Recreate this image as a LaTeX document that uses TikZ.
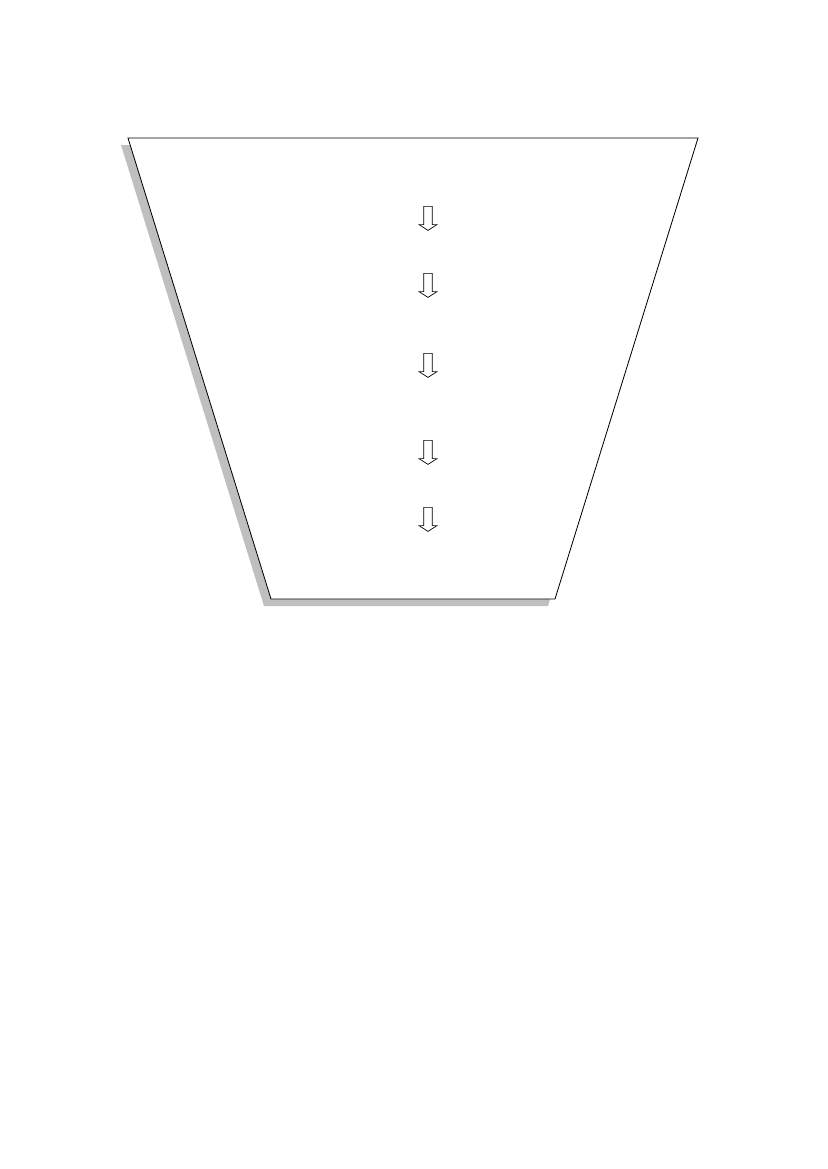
\documentclass[tikz,border=0pt]{standalone}
\usetikzlibrary{shapes.arrows}

\tikzset{
	down-arrow/.style={draw, single arrow, rotate=270, fill=white, line width=0.5pt, inner xsep=0pt, inner ysep=0.1cm, text height=0pt, text depth=0pt, minimum height=0.61cm, minimum width=0.45cm, single arrow head extend=0.12cm, single arrow tip angle=115},
}

\begin{document}
\begin{tikzpicture}[x=0.0254cm, y=-0.0254cm]
				\useasboundingbox (0, 0) rectangle (827, 1169);

				\coordinate (top-left) at (128, 138);
				\coordinate (top-right) at (698, 138);
				\coordinate (bottom-right) at (555, 599);
				\coordinate (bottom-left) at (271, 599);

				\fill[black!25] ([shift={(-7, 7)}]top-left) -- ([shift={(-7, 7)}]top-right) -- ([shift={(-7, 7)}]bottom-right) -- ([shift={(-7, 7)}]bottom-left) -- cycle;
				\draw[fill=white, line width=0.6pt] (top-left) -- (top-right) -- (bottom-right) -- (bottom-left) -- cycle;

				\node[down-arrow] at (428, 217) (arrow-first) {};
				\node[down-arrow] at (428, 284) (arrow-second) {};
				\node[down-arrow] at (428, 364) (arrow-third) {};
				\node[down-arrow] at (428, 451) (arrow-fourth) {};
				\node[down-arrow] at (428, 518) (arrow-fifth) {};
			\end{tikzpicture}
\end{document}
